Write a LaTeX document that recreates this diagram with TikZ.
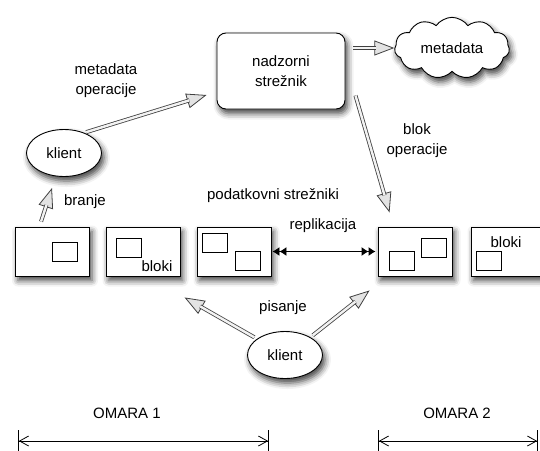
\documentclass[tikz,border=0pt]{standalone}
\usepackage{fontspec}
\setmainfont{Liberation Sans}
\usetikzlibrary{arrows.meta,shapes.geometric,shapes.symbols,shadows.blur}

\tikzset{
  senca/.style={blur shadow={shadow xshift=2.5pt,shadow yshift=-4.5pt,shadow blur radius=6pt,shadow opacity=75}},
  streznik/.style={draw,line width=0.9pt,fill=white,minimum width=74pt,minimum height=49pt,senca},
  blok/.style={draw,line width=0.8pt,minimum width=25pt,minimum height=19pt,inner sep=0pt},
  klient/.style={ellipse,draw,line width=0.9pt,fill=white,minimum width=75pt,minimum height=47pt,inner sep=0pt,senca},
  % votla puscica: konica s tanko crto, nato dvojni trup cez njo
  debela/.style={draw=gray!50!black,line width=0.8pt,
    -{Triangle[length=20pt,width=15pt,fill=gray!22]},
    postaction={draw=gray!50!black,double=gray!10,double distance=2.4pt,line width=0.8pt,-,shorten >=18pt}},
  repl/.style={line width=0.9pt,
    {Latex[length=7pt,width=9pt]Latex[length=7pt,width=9pt]}-{Latex[length=7pt,width=9pt]Latex[length=7pt,width=9pt]}},
  omara/.style={line width=0.8pt,
    {Bar[width=22pt]Straight Barb[length=9pt,width=10pt]}-{Straight Barb[length=9pt,width=10pt]Bar[width=22pt]}}
}

\begin{document}
\begin{tikzpicture}[x=1pt,y=-1pt,font=\fontsize{15}{20}\selectfont]
  \useasboundingbox (0,0) rectangle (540,450);

  % nadzorni streznik in metadata
  \node[draw,line width=0.9pt,fill=white,rounded corners=9pt,minimum width=128pt,minimum height=76pt,
        align=center,senca] (nadzor) at (281,71) {nadzorni\\strežnik};
  \node[cloud,cloud puffs=11,cloud puff arc=110,aspect=2,draw,line width=0.9pt,fill=white,
        minimum width=115pt,minimum height=60pt,senca] (meta) at (452,48) {metadata};

  % odjemalca
  \node[klient] (k1) at (64,153) {klient};
  \node[klient] (k2) at (285,355) {klient};

  % podatkovni strezniki
  \node[streznik] (s1) at (52.5,251.5) {};
  \node[streznik] (s2) at (143,251.5) {};
  \node[streznik] (s3) at (234,251.5) {};
  \node[streznik] (s4) at (415,251.5) {};
  \node[streznik] (s5) at (508,251.5) {};

  \node[blok] (b1) at (64.5,252) {};
  \node[blok] (b2) at (129,247.5) {};
  \node[blok] (b3a) at (215,242.5) {};
  \node[blok] (b3b) at (247.5,260.5) {};
  \node[blok] (b4a) at (402,260.5) {};
  \node[blok] (b4b) at (434,247.5) {};
  \node[blok] (b5) at (488.5,260.5) {};

  % napisi
  \node (lmeta) at (106,81) [align=center] {metadata\\operacije};
  \node (lblok) at (417,141) [align=center] {blok\\operacije};
  \node (lbranje) at (85,202) {branje};
  \node (lpod) at (273,196) {podatkovni strežniki};
  \node (lrepl) at (323,226) {replikacija};
  \node (lpis) at (283,308) {pisanje};
  \node (lbl2) at (157,266) {bloki};
  \node (lbl5) at (506,242) {bloki};
  \node (lo1) at (127,413) {OMARA 1};
  \node (lo2) at (457,413) {OMARA 2};

  % puscice
  \draw[debela,shorten <=2pt] (k1.45) -- ([xshift=-10pt,yshift=-24pt]nadzor.west);
  \draw[debela,shorten <=8pt] (nadzor.east |- meta.west) -- (meta.west);
  \draw[debela] ([xshift=10pt,yshift=14pt]nadzor.south east) -- ([xshift=12pt,yshift=14pt]s4.north west);
  \draw[debela] ([xshift=26pt,yshift=5pt]s1.north west) -- ([xshift=-12pt,yshift=-11pt]k1.south);
  \draw[debela,shorten <=3pt] (k2.150) -- ([xshift=-12pt,yshift=-21pt]s3.south west);
  \draw[debela,shorten <=3pt] (k2.35) -- ([xshift=-8pt,yshift=-14pt]s4.south west);
  \draw[repl,shorten <=1pt,shorten >=2pt] (s3.east) -- (s4.west);

  % omari
  \coordinate (o1a) at (18,441);
  \coordinate (o1b) at (269,441);
  \coordinate (o2a) at (378,441);
  \coordinate (o2b) at (538,441);
  \draw[omara] (o1a) -- (o1b);
  \draw[omara] (o2a) -- (o2b);
\end{tikzpicture}
\end{document}
